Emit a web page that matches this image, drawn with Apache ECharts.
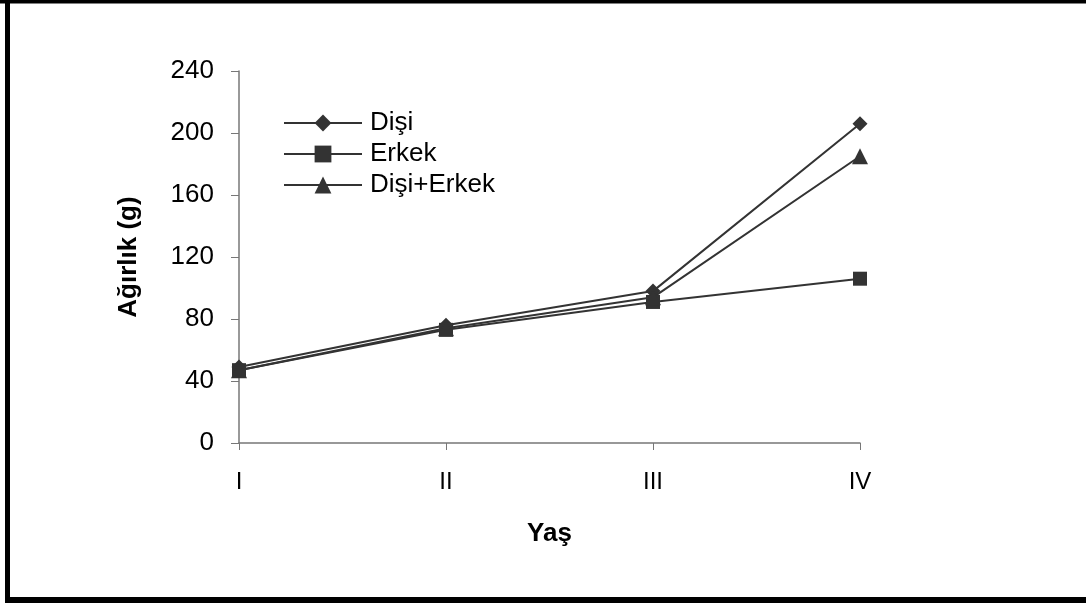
<!DOCTYPE html>
<html>
<head>
<meta charset="utf-8">
<style>
  html, body { margin: 0; padding: 0; background: #fff; }
  #chart { width: 1086px; height: 603px; }
</style>
<script src="https://cdn.jsdelivr.net/npm/echarts@6/dist/echarts.min.js"></script>
</head>
<body>
<div id="chart"></div>
<script>
// Age classes
const ages = ['I', 'II', 'III', 'IV'];
// Mean weight (g) per age class
const disi = [49, 76, 98, 206];
const erkek = [47, 73, 91, 106];
const disiErkek = [47, 74, 94, 185];
// Y-axis ticks
const yMin = 0, yMax = 240, yStep = 40;

const ink = '#333333';
const font = '"Liberation Sans", Arial, sans-serif';

const chart = echarts.init(document.getElementById('chart'), null, { renderer: 'canvas' });

function lineSeries(name, data, symbol, size) {
  return {
    name: name,
    type: 'line',
    data: data,
    symbol: symbol,
    symbolSize: size,
    showAllSymbol: true,
    lineStyle: { color: ink, width: 2 },
    itemStyle: { color: ink, borderWidth: 0 },
    emphasis: { disabled: true },
    animation: false
  };
}

chart.setOption({
  backgroundColor: '#ffffff',
  animation: false,
  textStyle: { fontFamily: font },
  graphic: [
    { type: 'rect', shape: { x: 0, y: 0, width: 1086, height: 3.5 }, style: { fill: '#000' } },
    { type: 'rect', shape: { x: 5, y: 0, width: 5, height: 603 }, style: { fill: '#000' } },
    { type: 'rect', shape: { x: 5, y: 597, width: 1081, height: 6 }, style: { fill: '#000' } }
  ],
  grid: { left: 239, right: 226, top: 71, bottom: 160, containLabel: false },
  legend: {
    orient: 'vertical',
    left: 283,
    top: 110,
    padding: 0,
    itemWidth: 78,
    itemHeight: 21,
    itemGap: 5,
    textStyle: { fontSize: 26, lineHeight: 18, color: '#000', fontFamily: font, padding: [0, 0, 0, 3] },
    data: ['Dişi', 'Erkek', 'Dişi+Erkek']
  },
  xAxis: {
    type: 'category',
    data: ages,
    boundaryGap: false,
    name: 'Yaş',
    nameLocation: 'middle',
    nameGap: 78,
    nameTextStyle: { fontSize: 26, fontWeight: 'bold', color: '#000', fontFamily: font },
    axisLine: { lineStyle: { color: '#777', width: 1.5 } },
    axisTick: { show: true, alignWithLabel: true, length: 7, lineStyle: { color: '#777' } },
    axisLabel: { fontSize: 24, color: '#000', margin: 27, fontFamily: font },
    splitLine: { show: false }
  },
  yAxis: {
    type: 'value',
    min: yMin,
    max: yMax,
    interval: yStep,
    name: 'Ağırlık (g)',
    nameLocation: 'middle',
    nameGap: 97,
    nameRotate: 90,
    nameTextStyle: { fontSize: 26, fontWeight: 'bold', color: '#000', fontFamily: font },
    axisLine: { show: true, lineStyle: { color: '#777', width: 1.5 } },
    axisTick: { show: true, length: 8, lineStyle: { color: '#777' } },
    axisLabel: { fontSize: 26, color: '#000', margin: 25, fontFamily: font },
    splitLine: { show: false }
  },
  series: [
    lineSeries('Dişi', disi, 'diamond', 15),
    lineSeries('Erkek', erkek, 'rect', 14),
    lineSeries('Dişi+Erkek', disiErkek, 'triangle', 16)
  ]
});
</script>
</body>
</html>
